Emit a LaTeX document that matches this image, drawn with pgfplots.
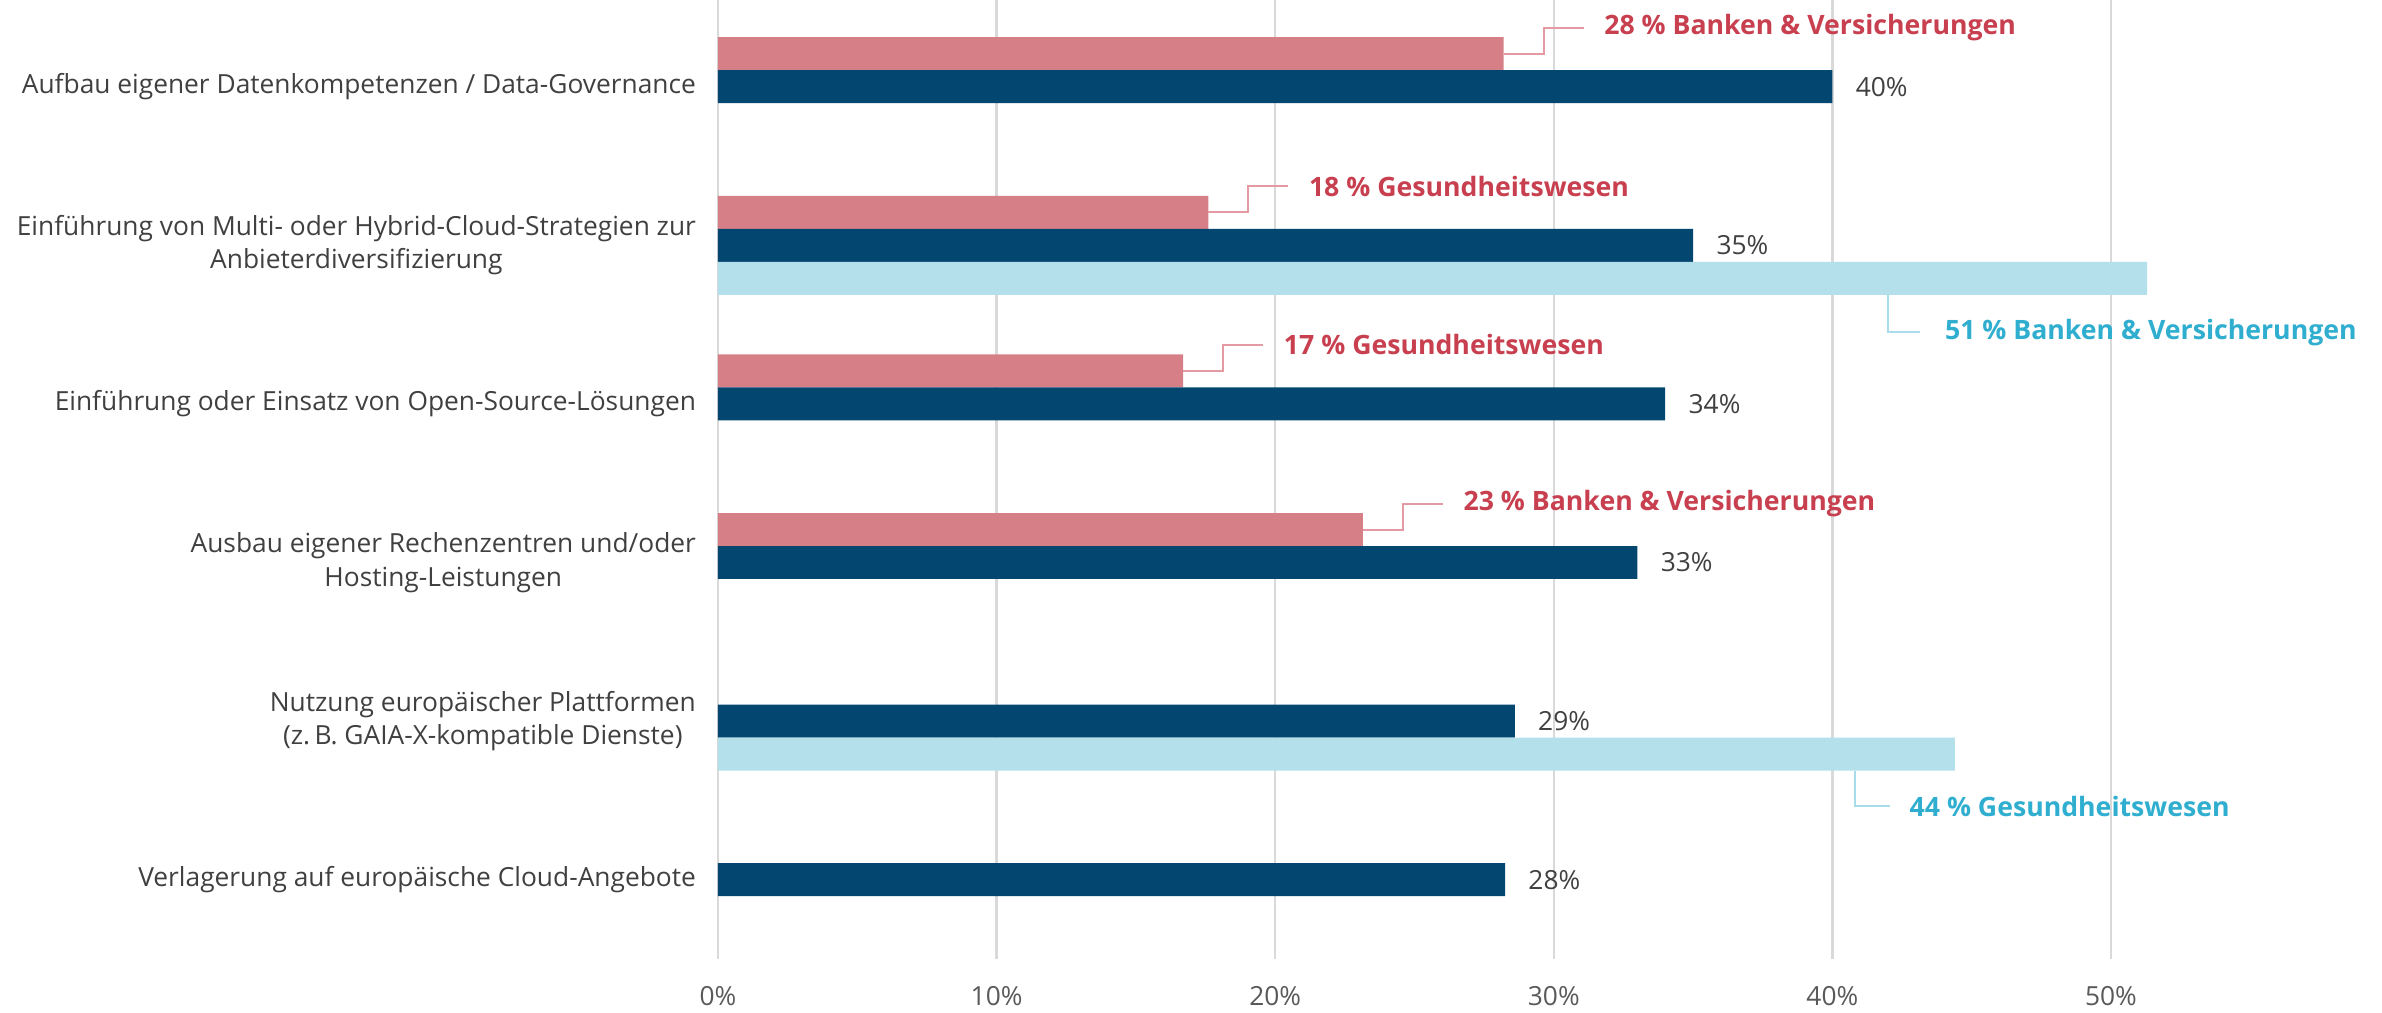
\documentclass[border=0pt]{standalone}
\usepackage{fontspec}
\setmainfont{Open Sans}
\usepackage{pgfplots}
\pgfplotsset{compat=1.18}
\definecolor{navy}{HTML}{03466F}
\definecolor{pinkbar}{HTML}{D77F87}
\definecolor{lblue}{HTML}{B3E0EB}
\definecolor{pinktext}{HTML}{C8404F}
\definecolor{bluetext}{HTML}{2FAECF}
\definecolor{pinkline}{HTML}{E39AA2}
\definecolor{blueline}{HTML}{A8DCEA}
\definecolor{labgray}{HTML}{404040}
\definecolor{tickgray}{HTML}{595959}
\definecolor{gridgray}{HTML}{D9D9D9}
\begin{document}
\begin{tikzpicture}
\begin{axis}[
  at={(0,0)}, anchor=south west,
  scale only axis, width=498.96pt, height=287.85pt,
  xmin=0, xmax=59.7, ymin=-0.55, ymax=5.5, y dir=reverse,
  xtick={0,10,20,30,40,50},
  xticklabels={0\%,10\%,20\%,30\%,40\%,50\%},
  ytick={0,1,2,3,4,5},
  yticklabels={
    {Aufbau eigener Datenkompetenzen / Data-Governance},
    {Einführung von Multi- oder Hybrid-Cloud-Strategien zur\\Anbieterdiversifizierung},
    {Einführung oder Einsatz von Open-Source-Lösungen},
    {Ausbau eigener Rechenzentren und/oder\\Hosting-Leistungen},
    {Nutzung europäischer Plattformen\\(z.\,B. GAIA-X-kompatible Dienste)},
    {Verlagerung auf europäische Cloud-Angebote}},
  xmajorgrids, grid style={gridgray, line width=0.75pt},
  axis line style={draw=none}, major tick length=0pt,
  tick label style={font=\fontsize{7.9}{10}\selectfont},
  yticklabel style={align=center, text=labgray, xshift=-3.1pt},
  xticklabel style={text=tickgray, yshift=-4.8pt},
  clip=false,
]
% pink series (upper bar)
\addplot[xbar, bar shift=0pt, bar width=0.208, fill=pinkbar, draw=none]
  coordinates {(28.2,-0.208) (17.6,0.792) (16.7,1.792) (23.15,2.792)};
% navy series (all respondents)
\addplot[xbar, bar shift=0pt, bar width=0.208, fill=navy, draw=none,
  point meta=x,
  nodes near coords={\pgfmathprintnumber[fixed,precision=0,assume math mode=true]{\pgfplotspointmeta}\%},
  every node near coord/.style={anchor=west, xshift=3.5pt, text=labgray,
    font=\fontsize{7.9}{10}\selectfont}]
  coordinates {(40.0,0) (35.0,1) (34.0,2) (33.0,3) (28.6,4) (28.25,5)};
% light blue series (lower bar)
\addplot[xbar, bar shift=0pt, bar width=0.208, fill=lblue, draw=none]
  coordinates {(51.3,1.208) (44.4,4.208)};

% pink call-outs
\draw[pinkline, line width=0.6pt] (axis cs:28.2,-0.208) -- (axis cs:29.64,-0.208) -- (axis cs:29.64,-0.372) -- (axis cs:31.07,-0.372);
\node[anchor=west, inner sep=0pt, text=pinktext, font=\bfseries\fontsize{8}{10}\selectfont] at (axis cs:31.79,-0.372) {28 \% Banken \& Versicherungen};
\draw[pinkline, line width=0.6pt] (axis cs:17.6,0.792) -- (axis cs:19.04,0.792) -- (axis cs:19.04,0.628) -- (axis cs:20.47,0.628);
\node[anchor=west, inner sep=0pt, text=pinktext, font=\bfseries\fontsize{8}{10}\selectfont] at (axis cs:21.19,0.628) {18 \% Gesundheitswesen};
\draw[pinkline, line width=0.6pt] (axis cs:16.7,1.792) -- (axis cs:18.14,1.792) -- (axis cs:18.14,1.628) -- (axis cs:19.57,1.628);
\node[anchor=west, inner sep=0pt, text=pinktext, font=\bfseries\fontsize{8}{10}\selectfont] at (axis cs:20.29,1.628) {17 \% Gesundheitswesen};
\draw[pinkline, line width=0.6pt] (axis cs:23.15,2.792) -- (axis cs:24.59,2.792) -- (axis cs:24.59,2.628) -- (axis cs:26.02,2.628);
\node[anchor=west, inner sep=0pt, text=pinktext, font=\bfseries\fontsize{8}{10}\selectfont] at (axis cs:26.74,2.628) {23 \% Banken \& Versicherungen};
% light blue call-outs
\draw[blueline, line width=0.6pt] (axis cs:42.0,1.312) -- (axis cs:42.0,1.548) -- (axis cs:43.14,1.548);
\node[anchor=west, inner sep=0pt, text=bluetext, font=\bfseries\fontsize{8}{10}\selectfont] at (axis cs:44.02,1.548) {51 \% Banken \& Versicherungen};
\draw[blueline, line width=0.6pt] (axis cs:40.81,4.312) -- (axis cs:40.81,4.536) -- (axis cs:42.07,4.536);
\node[anchor=west, inner sep=0pt, text=bluetext, font=\bfseries\fontsize{8}{10}\selectfont] at (axis cs:42.75,4.536) {44 \% Gesundheitswesen};
\end{axis}
\pgfresetboundingbox
\path (-215.4pt,-16.2pt) rectangle (499.2pt,287.7pt);
\end{tikzpicture}
\end{document}
